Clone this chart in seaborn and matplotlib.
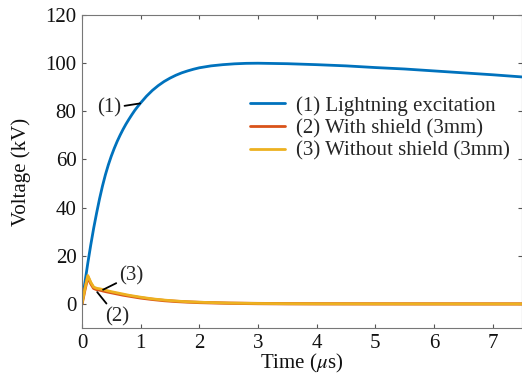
import numpy as np
import pandas as pd
import matplotlib
matplotlib.use("Agg")
import matplotlib.pyplot as plt
import seaborn as sns

# Lightning excitation waveform (kV) vs time (us)
t_excitation = [0.0, 0.05, 0.1, 0.15, 0.2, 0.25, 0.3, 0.35, 0.4, 0.45, 0.5, 0.55,
                0.6, 0.65, 0.7, 0.75, 0.8, 0.85, 0.9, 0.95, 1.0, 1.1, 1.2, 1.3,
                1.4, 1.5, 1.6, 1.7, 1.8, 1.9, 2.0, 2.2, 2.4, 2.6, 2.8, 3.0,
                3.5, 4.0, 4.5, 5.0, 5.5, 6.0, 6.5, 7.0, 7.5]
v_excitation = [0.0, 8.8, 17.0, 24.5, 31.5, 37.8, 43.7, 49.0, 53.7, 57.8, 61.4,
                64.6, 67.5, 70.1, 72.5, 74.7, 76.7, 78.6, 80.4, 82.0, 83.5, 86.3,
                88.7, 90.7, 92.4, 93.8, 95.0, 96.0, 96.8, 97.5, 98.1, 98.9, 99.4,
                99.75, 99.95, 100.0, 99.8, 99.4, 98.9, 98.2, 97.6, 96.8, 96.0,
                95.2, 94.3]

# Induced voltage (kV), with and without 3 mm shield
t_induced = [0.0, 0.05, 0.1, 0.15, 0.2, 0.25, 0.3, 0.4, 0.5, 0.6, 0.7, 0.8, 0.9,
             1.0, 1.2, 1.4, 1.6, 1.8, 2.0, 2.5, 3.0, 3.5, 4.0, 5.0, 6.0, 7.0, 7.5]
v_shield = [0.0, 6.0, 11.2, 8.5, 6.5, 6.0, 5.8, 5.2, 4.7, 4.2, 3.7, 3.3, 2.9,
            2.5, 1.9, 1.4, 1.05, 0.8, 0.6, 0.3, 0.15, 0.08, 0.05, 0.02, 0.01,
            0.0, 0.0]
v_no_shield = [0.0, 6.2, 11.8, 9.0, 7.0, 6.5, 6.3, 5.7, 5.1, 4.6, 4.1, 3.6, 3.2,
               2.8, 2.1, 1.6, 1.2, 0.9, 0.7, 0.35, 0.18, 0.1, 0.06, 0.03, 0.01,
               0.0, 0.0]

labels = ["(1) Lightning excitation", "(2) With shield (3mm)",
          "(3) Without shield (3mm)"]
colors = ["#0072BD", "#D95319", "#EDB120"]

sns.set_theme(style="ticks")
plt.rcParams["font.family"] = ["Liberation Serif", "DejaVu Serif"]
plt.rcParams["mathtext.fontset"] = "stix"

FS = 15

fig = plt.figure(figsize=(5.22, 3.77), dpi=100)
ax = fig.add_axes([0.157, 0.13, 0.843, 0.83])

sns.lineplot(x=t_excitation, y=v_excitation, color=colors[0], lw=2,
             label=labels[0], ax=ax)
sns.lineplot(x=t_induced, y=v_shield, color=colors[1], lw=2.3,
             label=labels[1], ax=ax)
sns.lineplot(x=t_induced, y=v_no_shield, color=colors[2], lw=2,
             label=labels[2], ax=ax)

ax.set_xlim(0, 7.5)
ax.set_ylim(-10, 120)
ax.set_xticks(range(0, 8))
ax.set_yticks(range(0, 121, 20))
ax.tick_params(direction="in", length=3, width=0.8, color="#555555",
               labelsize=FS, labelcolor="#111111", top=True, right=True, pad=4)
for s in ax.spines.values():
    s.set_color("#777777")
    s.set_linewidth(0.8)

ax.set_xlabel("Time ($\\mu$s)", fontsize=FS, labelpad=-0.5, color="#111111")
ax.set_ylabel("Voltage (kV)", fontsize=FS, labelpad=10, color="#111111")

leg = ax.legend(loc="center left", bbox_to_anchor=(0.382, 0.638), frameon=False,
                fontsize=FS, handlelength=1.7, handletextpad=0.5,
                labelspacing=0.15, borderpad=0, borderaxespad=0)
for line in leg.get_lines():
    line.set_linewidth(2)

# Curve callouts
arrow = dict(arrowstyle="-", color="black", lw=1.3, shrinkA=0, shrinkB=0)
ax.annotate("(1)", xy=(0.99, 83.3), xytext=(0.67, 81.3), fontsize=FS,
            ha="right", va="center", arrowprops=arrow)
ax.annotate("(3)", xy=(0.36, 5.9), xytext=(0.64, 11.8), fontsize=FS,
            ha="left", va="center", arrowprops=arrow)
ax.annotate("(2)", xy=(0.26, 4.9), xytext=(0.39, -5.2), fontsize=FS,
            ha="left", va="center", arrowprops=arrow)

fig.savefig("out.png", dpi=100)
